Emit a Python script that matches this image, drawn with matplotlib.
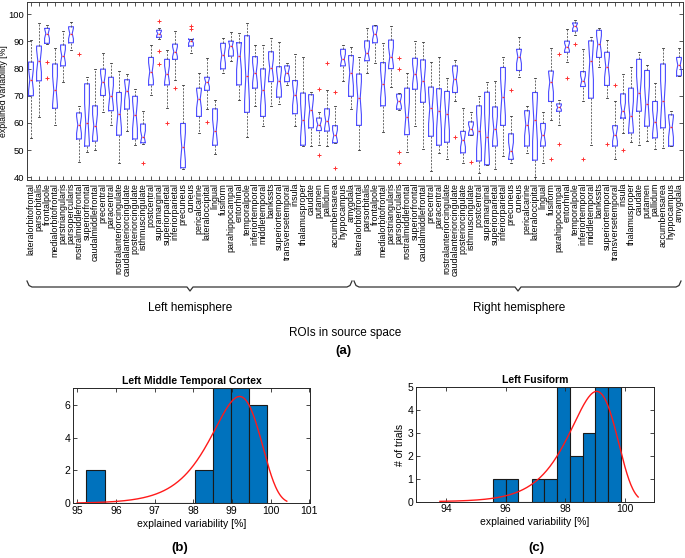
import numpy as np
import matplotlib
matplotlib.use('Agg')
import matplotlib.pyplot as plt
from matplotlib.lines import Line2D

plt.rcParams['font.family'] = ['Liberation Sans', 'DejaVu Sans']

# ---------------- data ----------------
regions = ['lateralorbitofrontal', 'parsorbitalis', 'frontalpole', 'medialorbitofrontal',
           'parstriangularis', 'parsopercularis', 'rostralmiddlefrontal', 'superiorfrontal',
           'caudalmiddlefrontal', 'precentral', 'paracentral', 'rostralanteriorcingulate',
           'caudalanteriorcingulate', 'posteriorcingulate', 'isthmuscingulate', 'postcentral',
           'supramarginal', 'superiorparietal', 'inferiorparietal', 'precuneus', 'cuneus',
           'pericalcarine', 'lateraloccipital', 'lingual', 'fusiform', 'parahippocampal',
           'entorhinal', 'temporalpole', 'inferiortemporal', 'middletemporal', 'bankssts',
           'superiortemporal', 'transversetemporal', 'insula', 'thalamusproper', 'caudate',
           'putamen', 'pallidum', 'accumbensarea', 'hyppocampus', 'amygdala']
roi_labels = regions + regions

whislo = [54.5, 62.2, 89.0, 59.4, 75.1, 86.8, 45.6, 49.3, 50.2, 64.1, 59.4, 45.4, 57.0, 51.8,
          52.4, 70.2, 91.0, 65.4, 75.9, 42.9, 85.6, 56.3, 65.2, 48.7, 78.5, 82.8, 68.5, 54.8,
          66.3, 59.0, 66.3, 67.1, 74.0, 59.0, 51.5, 51.5, 51.7, 51.5, 52.5, 75.5, 65.1,
          50.0, 78.5, 82.0, 56.6, 73.4, 64.6, 49.3, 58.8, 50.5, 42.3, 48.8, 46.8, 67.9, 45.1,
          55.4, 41.7, 44.5, 42.9, 48.0, 45.1, 76.8, 48.8, 40.0, 45.4, 61.0, 59.4, 82.3, 92.5,
          68.0, 51.8, 80.5, 69.0, 46.6, 56.3, 52.9, 51.8, 53.3, 50.5, 50.7, 51.5, 77.3]
q1 = [70.0, 75.5, 89.3, 65.4, 81.0, 89.5, 54.1, 51.5, 53.3, 70.1, 64.5, 55.5, 65.1, 54.1,
      52.7, 74.0, 91.5, 74.0, 83.4, 43.5, 88.3, 62.4, 72.0, 51.8, 79.9, 84.6, 74.0, 63.9,
      72.8, 62.4, 75.2, 69.5, 75.2, 63.4, 51.8, 58.2, 57.2, 57.0, 52.7, 81.0, 69.8,
      59.1, 82.9, 89.5, 66.3, 80.0, 65.1, 55.7, 72.4, 67.6, 55.1, 51.8, 52.9, 71.2, 49.0,
      55.5, 46.0, 44.6, 51.5, 59.1, 46.6, 79.3, 51.5, 46.3, 51.5, 67.9, 64.3, 86.0, 93.8,
      73.4, 69.1, 84.1, 73.8, 51.5, 61.8, 56.3, 64.3, 58.8, 54.5, 58.2, 51.5, 77.3]
med = [75.9, 82.8, 92.9, 72.0, 84.6, 92.9, 59.3, 59.8, 59.0, 75.1, 69.8, 63.3, 71.8, 63.0,
       54.9, 78.9, 92.9, 78.0, 86.2, 51.1, 90.2, 68.8, 74.9, 57.0, 85.0, 88.3, 84.6, 77.1,
       78.5, 72.0, 80.1, 75.6, 78.5, 70.4, 60.9, 64.9, 59.4, 60.6, 55.4, 83.4, 78.5,
       69.1, 85.6, 92.7, 74.3, 84.4, 67.9, 62.1, 78.0, 75.6, 65.5, 64.5, 63.3, 76.1, 53.7,
       57.8, 57.0, 54.9, 57.8, 69.5, 49.8, 84.4, 59.4, 61.2, 55.4, 75.0, 65.7, 88.0, 95.6,
       75.6, 82.8, 88.9, 80.7, 55.7, 64.5, 62.7, 71.0, 67.0, 60.4, 68.0, 58.5, 81.3]
q3 = [82.4, 88.3, 94.8, 81.7, 88.7, 95.4, 63.7, 74.4, 66.3, 79.8, 76.8, 71.2, 75.9, 69.8,
      59.6, 84.1, 94.1, 83.4, 89.0, 59.8, 90.7, 72.8, 76.8, 65.2, 89.3, 90.1, 89.5, 92.1,
      84.4, 79.9, 86.2, 80.7, 81.0, 75.6, 71.0, 70.4, 61.8, 65.2, 59.0, 87.1, 84.8,
      78.0, 90.2, 95.7, 82.2, 90.5, 70.6, 72.8, 83.8, 83.2, 73.2, 72.6, 71.6, 81.0, 56.9,
      60.4, 66.3, 71.3, 65.9, 80.4, 56.0, 87.1, 64.5, 71.2, 59.8, 79.1, 67.0, 90.1, 96.8,
      78.9, 90.2, 94.1, 86.0, 59.0, 70.7, 72.8, 83.4, 79.3, 67.9, 81.7, 63.0, 84.1]
whishi = [90.5, 96.8, 95.9, 87.7, 93.9, 97.0, 66.1, 76.8, 79.9, 85.9, 82.0, 79.1, 78.0, 72.6,
          64.5, 88.7, 95.1, 87.0, 93.8, 73.8, 90.9, 78.3, 84.0, 68.3, 91.1, 93.3, 93.2, 96.8,
          88.7, 88.7, 91.1, 89.9, 82.0, 85.2, 84.1, 71.2, 64.0, 72.2, 66.3, 88.7, 88.0,
          84.1, 95.1, 96.0, 89.3, 95.7, 71.0, 78.5, 90.0, 89.9, 82.6, 84.1, 76.5, 83.2, 65.5,
          63.9, 69.8, 74.9, 75.5, 84.1, 62.4, 91.7, 66.1, 76.5, 63.9, 87.4, 68.5, 94.4, 98.0,
          87.2, 91.7, 95.1, 90.7, 68.0, 78.0, 80.5, 86.2, 81.5, 74.8, 87.4, 64.5, 87.4]
outliers = [[], [], [82.4, 76.5], [], [], [], [85.2], [], [], [], [], [], [], [],
            [45.2], [], [97.6, 86.6, 81.7], [60.1], [72.8], [], [95.6, 94.5], [], [60.2], [],
            [], [], [], [], [], [], [], [], [], [], [], [], [72.4, 48.3], [82.2], [71.3, 43.5],
            [], [],
            [], [], [], [], [], [84.0, 79.9, 49.3, 45.4], [], [], [], [], [], [], [54.9], [],
            [45.7], [], [], [], [], [72.2], [], [], [], [], [46.6], [85.2, 52.1], [76.5], [89.0],
            [46.6], [], [], [52.4], [74.0], [50.0], [], [], [], [], [], [], []]
n_trials = 24

# histogram (b): Left Middle Temporal Cortex
b_edges = [95.24, 95.71, 96.17, 96.64, 97.11, 97.57, 98.04, 98.51, 98.97, 99.44, 99.91]
b_counts = [2, 0, 0, 0, 0, 0, 2, 7, 7, 6]
b_fit_mu, b_fit_sigma = 99.2, 0.634
b_fit_lo, b_fit_hi = 95.0, 100.42
b_xticks = [95, 96, 97, 98, 99, 100, 101]
b_yticks = [0, 2, 4, 6]

# histogram (c): Left Fusiform
c_edges = [95.59, 96.02, 96.43, 96.87, 97.30, 97.71, 98.16, 98.58, 98.99, 99.43, 99.85]
c_counts = [1, 1, 0, 1, 1, 5, 2, 3, 5, 5]
c_fit_mu, c_fit_sigma = 99.05, 0.78
c_fit_lo, c_fit_hi = 93.8, 100.44
c_xticks = [94, 96, 98, 100]
c_yticks = [0, 1, 2, 3, 4, 5]

# ---------------- figure ----------------
W, H = 685, 558
fig = plt.figure(figsize=(W / 100, H / 100), dpi=100)


def fx(x):
    return x / W


def fy(y):
    return 1 - y / H


AX_COL = '#3a3a3a'

# ---- panel (a) ----
ax = fig.add_axes([fx(27), fy(180), fx(683) - fx(27), fy(2) - fy(180)])
n = len(roi_labels)
stats = []
for i in range(n):
    half = 1.57 * (q3[i] - q1[i]) / np.sqrt(n_trials)
    stats.append(dict(med=med[i], q1=q1[i], q3=q3[i], whislo=whislo[i], whishi=whishi[i],
                      fliers=outliers[i], cilo=med[i] - half, cihi=med[i] + half))
pos = np.arange(1, n + 1)
ax.bxp(stats, positions=pos, widths=0.6, shownotches=True, showfliers=True,
       boxprops=dict(color='#4a4aff', lw=0.8),
       medianprops=dict(color='#ff3030', lw=0.9),
       whiskerprops=dict(color='#555555', lw=0.6, linestyle=(0, (2.5, 1.5))),
       capprops=dict(color='#333333', lw=0.6),
       flierprops=dict(marker='+', markeredgecolor='#ff3030', markersize=3.5, mew=0.7,
                       linestyle='none'))
ax.set_xlim(0.5, n + 0.5)
ax.set_ylim(39, 104.5)
ax.set_yticks([40, 50, 60, 70, 80, 90, 100])
ax.set_xticks(pos)
ax.set_xticklabels(roi_labels, rotation=90, fontsize=6.4, va='top', ha='center')
ax.tick_params(axis='y', labelsize=6.8, direction='in', right=True, length=3, width=0.6,
               colors=AX_COL, pad=2)
ax.tick_params(axis='x', direction='in', top=True, length=3, width=0.6, colors=AX_COL, pad=2)
ax.tick_params(axis='x', labelcolor='black')
ax.tick_params(axis='y', labelcolor='black')
for s in ax.spines.values():
    s.set_color(AX_COL)
    s.set_linewidth(0.7)
ax.set_ylabel('explained variability [%]', fontsize=6.3)
ax.yaxis.set_label_coords(-0.029, 0.5)

# braces under labels
def brace(x0, x1, y, xm):
    xs = [x0, x0 + 2, x0 + 5, xm - 3, xm, xm + 3, x1 - 5, x1 - 2, x1]
    ys = [y - 6, y - 1.5, y, y, y + 4, y, y, y - 1.5, y - 6]
    fig.add_artist(Line2D([fx(v) for v in xs], [fy(v) for v in ys],
                          transform=fig.transFigure, color='#333333', lw=0.9))

brace(27, 352, 287, 190)
brace(354, 681, 287, 518)
fig.text(fx(190), fy(308), 'Left hemisphere', ha='center', va='center', fontsize=8.5)
fig.text(fx(519), fy(308), 'Right hemisphere', ha='center', va='center', fontsize=8.5)
fig.text(fx(345), fy(333), 'ROIs in source space', ha='center', va='center', fontsize=8.5)
fig.text(fx(343), fy(351), '(a)', ha='center', va='center', fontsize=9.5, fontweight='bold')


# ---- histograms ----
def ev_pdf(x, mu, sigma):
    z = (x - mu) / sigma
    return np.exp(z) * np.exp(-np.exp(z)) / sigma


def hist_panel(rect, edges, counts, mu, sigma, lo, hi, xlim, ylim, xticks, yticks, title,
               ylabel=None):
    a = fig.add_axes(rect)
    edges = np.asarray(edges)
    a.bar(edges[:-1], counts, width=np.diff(edges), align='edge', color='#0072BD',
          edgecolor='#1a1a1a', lw=0.8)
    xs = np.linspace(lo, hi, 300)
    scale = n_trials * np.mean(np.diff(edges))
    a.plot(xs, ev_pdf(xs, mu, sigma) * scale, color='#ff1a1a', lw=1.0)
    a.set_xlim(*xlim)
    a.set_ylim(*ylim)
    a.set_xticks(xticks)
    a.set_yticks(yticks)
    a.tick_params(direction='in', top=True, right=True, length=3, width=0.6,
                  labelsize=7.5, colors='#262626', pad=2)
    a.tick_params(labelcolor='black')
    for s in a.spines.values():
        s.set_color('#262626')
        s.set_linewidth(0.7)
    a.set_title(title, fontsize=7.5, fontweight='bold', pad=3)
    a.set_xlabel('explained variability [%]', fontsize=7.5, labelpad=2)
    if ylabel:
        a.set_ylabel(ylabel, fontsize=7.5, labelpad=2)
    return a


hist_panel([fx(73.3), fy(503.3), fx(310) - fx(73.3), fy(388.3) - fy(503.3)],
           b_edges, b_counts, b_fit_mu, b_fit_sigma, b_fit_lo, b_fit_hi,
           (94.9, 101.02), (0, 7), b_xticks, b_yticks, 'Left Middle Temporal Cortex')
hist_panel([fx(416), fy(501.7), fx(654) - fx(416), fy(387.3) - fy(501.7)],
           c_edges, c_counts, c_fit_mu, c_fit_sigma, c_fit_lo, c_fit_hi,
           (93.0, 100.97), (0, 5), c_xticks, c_yticks, 'Left Fusiform', ylabel='# of trials')

fig.text(fx(180), fy(548), '(b)', ha='center', va='center', fontsize=9.5, fontweight='bold')
fig.text(fx(536), fy(548), '(c)', ha='center', va='center', fontsize=9.5, fontweight='bold')

fig.savefig('out.png', dpi=100)
